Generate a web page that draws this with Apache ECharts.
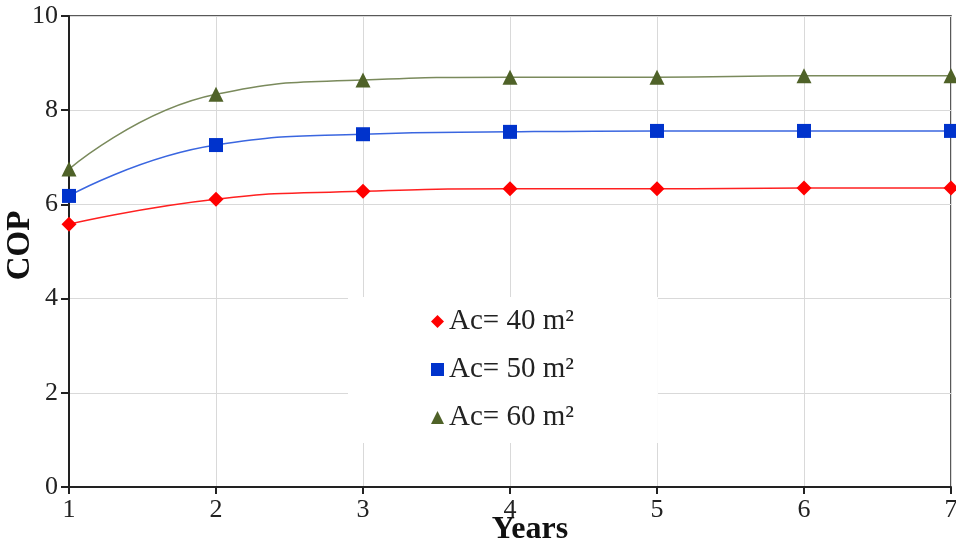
<!DOCTYPE html>
<html>
<head>
<meta charset="utf-8">
<script src="https://cdn.jsdelivr.net/npm/echarts@6/dist/echarts.min.js"></script>
<style>html,body{margin:0;padding:0;background:#fff;}#c{width:956px;height:545px;}</style>
</head>
<body>
<div id="c"></div>
<script>
var years = [1, 2, 3, 4, 5, 6, 7];
var seriesNames = ['Ac= 40 m²', 'Ac= 50 m²', 'Ac= 60 m²'];
var cop40 = [5.58, 6.11, 6.28, 6.33, 6.33, 6.35, 6.35];
var cop50 = [6.18, 7.26, 7.49, 7.54, 7.56, 7.56, 7.56];
var cop60 = [6.75, 8.34, 8.64, 8.70, 8.70, 8.73, 8.73];
var yTicks = [0, 2, 4, 6, 8, 10];

function pairs(vals){ return years.map(function(x,i){ return [x, vals[i]]; }); }

var font = 'Liberation Serif';
var chart = echarts.init(document.getElementById('c'), null, {renderer:'canvas'});
chart.setOption({
  animation: false,
  backgroundColor: '#fff',
  grid: {left: 69, right: 5, top: 16, bottom: 58, containLabel: false, outerBoundsMode: 'none',
         show: true, borderColor: '#222', borderWidth: 1.5},
  xAxis: {
    type: 'value', min: 1, max: 7, interval: 1,
    name: 'Years', nameLocation: 'middle', nameGap: 27, nameMoveOverlap: false,
    nameTextStyle: {fontFamily: font, fontSize: 32, fontWeight: 'bold', color: '#111',
                    verticalAlign: 'top', padding: [0,0,0,40]},
    axisLine: {show: true, onZero: false, lineStyle: {color: '#222', width: 2}},
    axisTick: {show: true, length: 7, lineStyle: {color: '#222', width: 2}},
    axisLabel: {fontFamily: font, fontSize: 26, color: '#222', margin: 10},
    splitLine: {show: true, lineStyle: {color: '#d9d9d9', width: 1}}
  },
  yAxis: {
    type: 'value', min: yTicks[0], max: yTicks[yTicks.length-1], interval: 2,
    name: 'COP', nameLocation: 'middle', nameGap: 32, nameMoveOverlap: false,
    nameTextStyle: {fontFamily: font, fontSize: 33, fontWeight: 'bold', color: '#111',
                    padding: [0,0,0,12]},
    axisLine: {show: true, lineStyle: {color: '#222', width: 2}},
    axisTick: {show: true, length: 8, lineStyle: {color: '#222', width: 2}},
    axisLabel: {fontFamily: font, fontSize: 26, color: '#222', margin: 11},
    splitLine: {show: true, lineStyle: {color: '#d9d9d9', width: 1}}
  },
  legend: {
    orient: 'vertical', left: 348, top: 297,
    backgroundColor: '#fff',
    padding: [10, 84, 11, 83],
    itemGap: 19, itemWidth: 13, itemHeight: 13,
    textStyle: {fontFamily: font, fontSize: 29, lineHeight: 29, color: '#222'},
    data: [
      {name: seriesNames[0], icon: 'diamond'},
      {name: seriesNames[1], icon: 'rect'},
      {name: seriesNames[2], icon: 'triangle'}
    ]
  },
  series: [
    {name: seriesNames[0], type: 'line', smooth: true, data: pairs(cop40),
     symbol: 'diamond', symbolSize: 15, itemStyle: {color: '#ff0000'},
     lineStyle: {color: '#ff2020', width: 1.5}},
    {name: seriesNames[1], type: 'line', smooth: true, data: pairs(cop50),
     symbol: 'rect', symbolSize: 14, itemStyle: {color: '#0033cc'},
     lineStyle: {color: '#3a66e0', width: 1.5}},
    {name: seriesNames[2], type: 'line', smooth: true, data: pairs(cop60),
     symbol: 'triangle', symbolSize: 15, itemStyle: {color: '#4f6228'},
     lineStyle: {color: '#7a8a5c', width: 1.5}}
  ]
});
</script>
</body>
</html>
